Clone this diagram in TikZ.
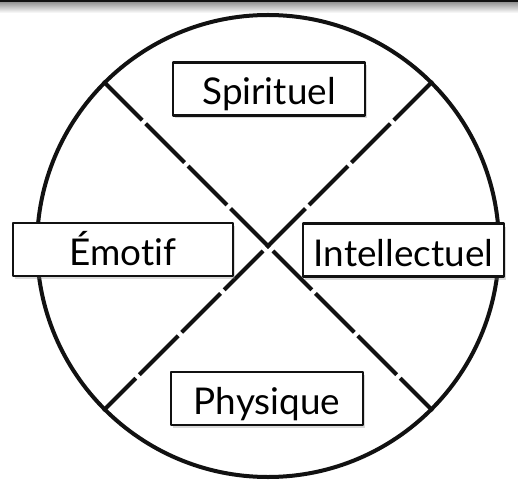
\documentclass[tikz,border=0pt]{standalone}
\usepackage{fontspec}
\setmainfont{Lato}[Ligatures={NoCommon,NoRare}]
\usetikzlibrary{shadows}
\definecolor{Ink}{HTML}{111111}
\begin{document}
\begin{tikzpicture}[x=1bp,y=-1bp,line join=round,
  quad/.style={draw=Ink,line width=2.3bp,fill=white,inner sep=0pt,minimum height=53bp,
    text height=32bp,text depth=0bp,font=\fontsize{37}{40}\selectfont,
    drop shadow={opacity=0.3,shadow xshift=2bp,shadow yshift=-3bp}},
  axis/.style={draw=Ink,line width=4bp,dash pattern=on 55bp off 5bp}]
  \useasboundingbox (0,0) rectangle (518,481);
  \fill[Ink] (0,0) rectangle (518,2.5);
  \shade[top color=black!40,bottom color=white] (0,2.5) rectangle (518,13);
  \node[circle,draw=Ink,line width=4bp,minimum size=462bp,inner sep=0pt] (ring) at (268,246) {};
  \draw[axis] (ring.135) -- (ring.-45);
  \draw[axis] (ring.45) -- (ring.-135);
  \node[quad,minimum width=192bp] (spi) at (269,89) {Spirituel};
  \node[quad,minimum width=220bp] (emo) at (123,249.5) {Émotif};
  \node[quad,minimum width=201bp] (int) at (403.5,250) {Intellectuel};
  \node[quad,minimum width=192bp] (phy) at (267,398.5) {Physique};
\end{tikzpicture}
\end{document}
